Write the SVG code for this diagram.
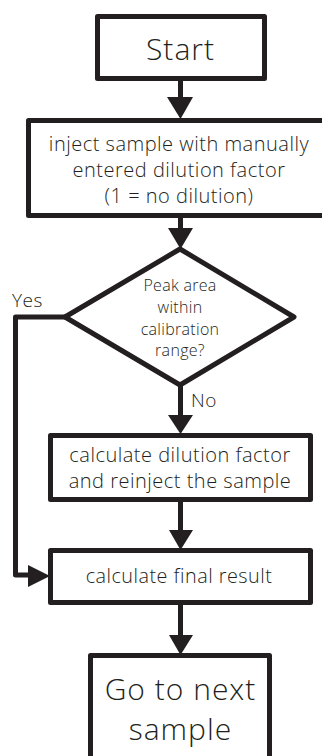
<svg xmlns="http://www.w3.org/2000/svg" width="322" height="756" viewBox="0 0 322 756">
<style>
.box{fill:#fff;stroke:#231f20;stroke-width:5;stroke-linejoin:round}
.ln{fill:none;stroke:#231f20;stroke-width:5;stroke-linejoin:round}
.hd{fill:#231f20;stroke:none}
text{font-family:"Open Sans","Noto Sans",sans-serif;font-weight:300;fill:#231f20;text-anchor:middle}
.big{font-size:30px;letter-spacing:1px}
.mid{font-size:20px;letter-spacing:0.5px}
.sm{font-size:16px;letter-spacing:0.3px}
.fin{font-size:19.8px;letter-spacing:0.5px}
.lbl{font-size:19px;letter-spacing:0.5px;text-anchor:start}
</style>
<rect width="322" height="756" fill="#fff"/>
<g id="start">
<rect class="box" x="97.5" y="16.5" width="167" height="62"/>
<text class="big" x="180.5" y="60">Start</text>
</g>
<g id="inject">
<rect class="box" x="28.5" y="120.5" width="310" height="95"/>
<text class="mid" x="179" y="151">inject sample with manually</text>
<text class="mid" x="179" y="177">entered dilution factor</text>
<text class="mid" x="179" y="203">(1 = no dilution)</text>
</g>
<g id="decision">
<polygon class="box" points="180,249 294,317 180,385 65,317"/>
<text class="sm" x="180" y="291">Peak area</text>
<text class="sm" x="180" y="313">within</text>
<text class="sm" x="180" y="335">calibration</text>
<text class="sm" x="180" y="356">range?</text>
</g>
<g id="dilute">
<rect class="box" x="50.5" y="435.5" width="260" height="64"/>
<text class="mid" x="180" y="462">calculate dilution factor</text>
<text class="mid" x="180" y="488">and reinject the sample</text>
</g>
<g id="final">
<rect class="box" x="50.5" y="550.5" width="260" height="52"/>
<text class="fin" x="179" y="583">calculate final result</text>
</g>
<g id="next">
<rect class="box" x="90.5" y="655.5" width="179" height="120"/>
<text class="big" x="180.5" y="700">Go to next</text>
<text class="big" x="180.5" y="740">sample</text>
</g>
<g id="connectors">
<line class="ln" x1="180.5" y1="79" x2="180.5" y2="100"/>
<polygon class="hd" points="167,97 193,97 180.5,119"/>
<line class="ln" x1="180.5" y1="216" x2="180.5" y2="230"/>
<polygon class="hd" points="168,228 193,228 180.5,249"/>
<line class="ln" x1="180.5" y1="385" x2="180.5" y2="416"/>
<polygon class="hd" points="168,415 193,415 180.5,434"/>
<line class="ln" x1="180.5" y1="500" x2="180.5" y2="532"/>
<polygon class="hd" points="169,530 193,530 180.5,550"/>
<line class="ln" x1="180.5" y1="603" x2="180.5" y2="636"/>
<polygon class="hd" points="169,635 193,635 180.5,655"/>
<polyline class="ln" points="65,317 15.5,317 15.5,575 30,575"/>
<polygon class="hd" points="28,565 28,587 50,576"/>
<text class="lbl" x="12" y="307">Yes</text>
<text class="lbl" x="191" y="407">No</text>
</g>
</svg>
